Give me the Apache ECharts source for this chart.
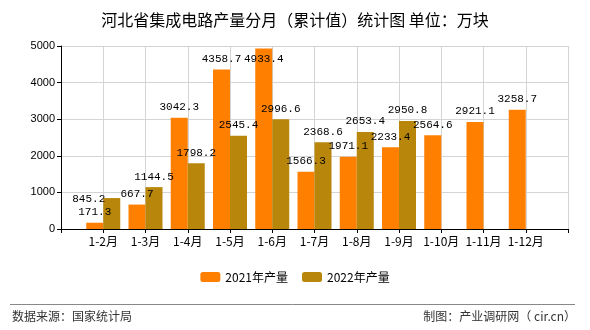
<!DOCTYPE html>
<html><head><meta charset="utf-8">
<script src="https://cdn.jsdelivr.net/npm/echarts@6/dist/echarts.min.js"></script>
<style>html,body{margin:0;padding:0;background:#fff}#c{width:590px;height:330px}</style>
</head><body><div id="c"></div>
<script>
var categories = ['', '1-2月', '1-3月', '1-4月', '1-5月', '1-6月', '1-7月', '1-8月', '1-9月', '1-10月', '1-11月', '1-12月', ''];
var series2021 = ['-', 171.3, 667.7, 3042.3, 4358.7, 4933.4, 1566.3, 1971.1, 2233.4, 2564.6, 2921.1, 3258.7, '-'];
var series2022 = ['-', 845.2, 1144.5, 1798.2, 2545.4, 2996.6, 2368.6, 2653.4, 2950.8, '-', '-', '-', '-'];
var yTicks = [0, 1000, 2000, 3000, 4000, 5000];
var names = ['2021年产量', '2022年产量'];

var labelFont = {fontFamily: 'Liberation Mono', fontSize: 11, color: '#000'};
// label adjustments seen in the reference (collision-shifted labels)
var offs2021 = {5: [0, 21]};
var offs2022 = {1: [-23, 12]};
function build(arr, offs) {
  return arr.map(function (v, i) {
    if (offs[i]) return {value: v, label: {offset: offs[i]}};
    return v;
  });
}
var chart = echarts.init(document.getElementById('c'), null, {renderer: 'canvas'});
chart.setOption({
  animation: false,
  backgroundColor: '#fff',
  title: {
    text: '河北省集成电路产量分月（累计值）统计图 单位：万块',
    left: 'center', top: 7,
    textStyle: {fontSize: 16, fontWeight: 'normal', color: '#000', fontFamily: 'Noto Sans CJK SC'}
  },
  legend: {
    data: names, bottom: 42, left: 'center', itemWidth: 20, itemHeight: 10, itemGap: 14,
    textStyle: {fontSize: 12, color: '#000', fontFamily: 'Noto Sans CJK SC'}
  },
  grid: {left: 61, right: 22, top: 46, bottom: 101},
  xAxis: {
    type: 'category', data: categories, boundaryGap: false,
    axisLine: {lineStyle: {color: '#000'}},
    axisTick: {show: true, length: 4, lineStyle: {color: '#000'}},
    axisLabel: {color: '#000', fontSize: 12, margin: 6, interval: 0, fontFamily: 'Noto Sans CJK SC'},
    splitLine: {show: true, lineStyle: {color: '#d4d4d4'}}
  },
  yAxis: {
    type: 'value', min: yTicks[0], max: yTicks[yTicks.length - 1], interval: 1000,
    axisLine: {show: true, lineStyle: {color: '#000'}},
    axisTick: {show: true, length: 4, lineStyle: {color: '#000'}},
    axisLabel: {color: '#000', fontSize: 11, margin: 6, fontFamily: 'Liberation Sans',
      formatter: function (v) { return String(v); }},
    splitLine: {show: true, lineStyle: {color: '#d4d4d4'}}
  },
  series: [
    {name: names[0], type: 'bar', data: build(series2021, offs2021), barWidth: 17, barGap: '0%',
     itemStyle: {color: '#FF8000'},
     label: Object.assign({show: true, position: 'top', distance: 5}, labelFont)},
    {name: names[1], type: 'bar', data: build(series2022, offs2022), barWidth: 17, barGap: '0%',
     itemStyle: {color: '#B8860B'},
     label: Object.assign({show: true, position: 'top', distance: 5}, labelFont)}
  ],
  graphic: [
    {type: 'line', shape: {x1: 10, y1: 304.5, x2: 575, y2: 304.5}, style: {stroke: '#888', lineWidth: 1}},
    {type: 'text', left: 12, top: 310, style: {text: '数据来源：国家统计局', fill: '#333', fontSize: 12, fontFamily: 'Noto Sans CJK SC'}},
    {type: 'text', right: 14, top: 310, style: {text: '制图：产业调研网（ cir.cn）', fill: '#333', fontSize: 12, fontFamily: 'Noto Sans CJK SC'}}
  ]
});
</script></body></html>
